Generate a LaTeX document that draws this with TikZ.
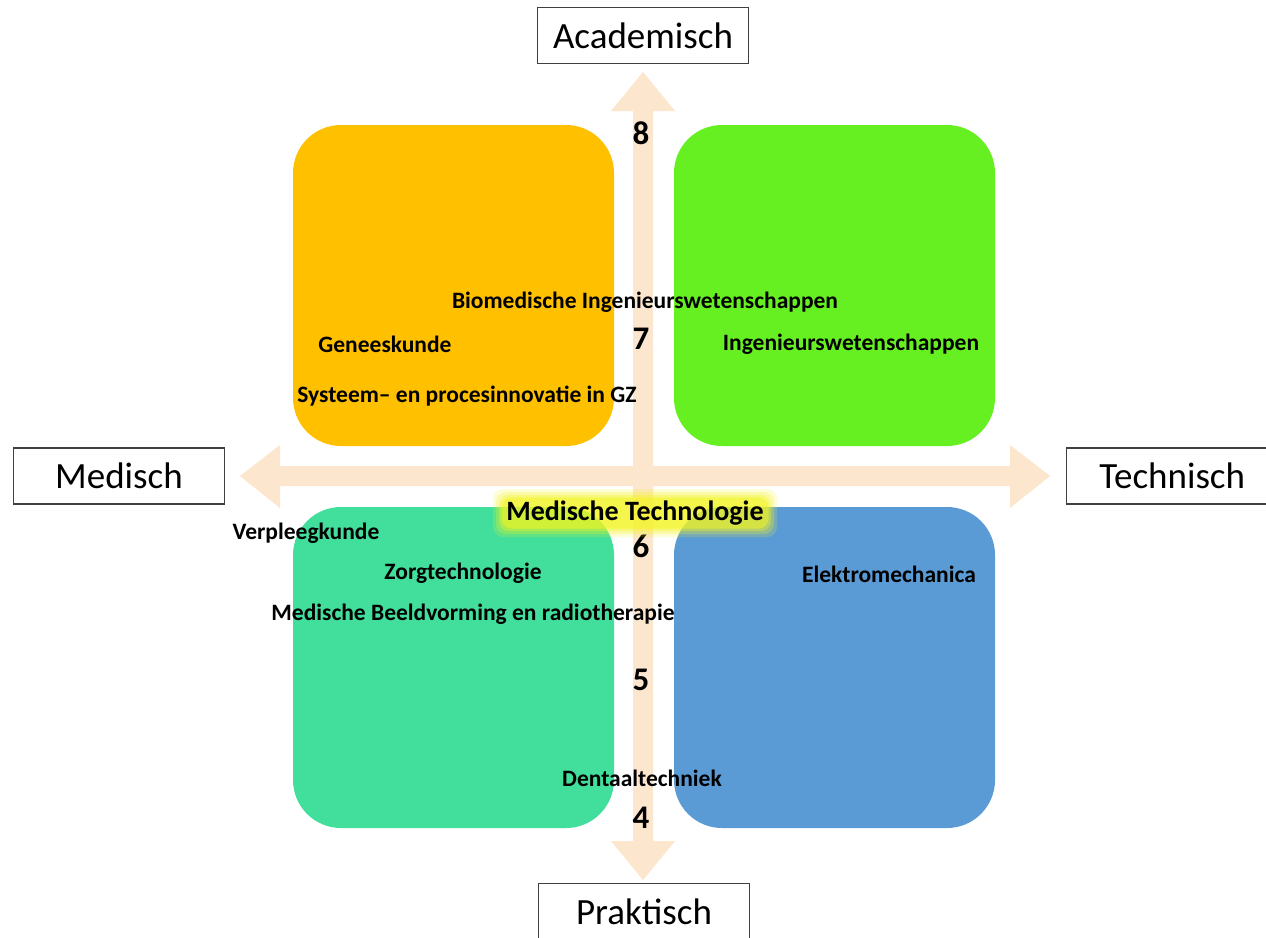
\documentclass[tikz,border=0pt]{standalone}
\usepackage{fontspec}
\setmainfont{Carlito}
\definecolor{qorange}{HTML}{FFC000}
\definecolor{qgreen}{HTML}{66F022}
\definecolor{qteal}{HTML}{41DF9B}
\definecolor{qblue}{HTML}{5B9BD5}
\definecolor{qarrow}{HTML}{FDE6CE}
\definecolor{qglow}{HTML}{F4F520}
\tikzset{
  quad/.style={rounded corners=48pt, draw=none},
  axisbox/.style={draw=black!75, line width=1.4pt, fill=white, minimum width=211pt, minimum height=56pt, inner sep=0pt, font=\fontsize{37}{40}\selectfont},
  lbl/.style={inner sep=0pt, font=\bfseries\fontsize{23.5}{25}\selectfont, text=black},
  num/.style={inner sep=0pt, font=\bfseries\fontsize{33}{35}\selectfont, text=black},
  axisfill/.style={fill=qarrow, draw=none}
}
\begin{document}
\begin{tikzpicture}[x=1pt,y=-1pt]
\useasboundingbox[fill=white] (0,0) rectangle (1266,937);
% quadrants
\fill[quad, qorange] (293,125) rectangle (614,446);
\fill[quad, qgreen] (674,125) rectangle (995,446);
\fill[quad, qteal] (293,507) rectangle (614,828);
\fill[quad, qblue] (674,507) rectangle (995,828);
% axes
\fill[axisfill] (643,72) -- (675,111) -- (653,111) -- (653,841) -- (675,841) -- (643,880) -- (611,841) -- (633,841) -- (633,111) -- (611,111) -- cycle;
\fill[axisfill] (240,476) -- (280,445) -- (280,466) -- (1010,466) -- (1010,445) -- (1050,476) -- (1010,508) -- (1010,486) -- (280,486) -- (280,508) -- cycle;
% axis labels
\node[axisbox] (acad) at (643,35.5) {Academisch};
\node[axisbox] (med) at (119,476) {Medisch};
\node[axisbox, anchor=west] (tech) at (1066,476) {Technisch};
\node[axisbox, anchor=north] (prak) at (644,883) {Praktisch};
% numbers
\node[num] (n8) at (641,133) {8};
\node[num] (n7) at (641,339) {7};
\node[num] (n6) at (641,546) {6};
\node[num] (n5) at (641,680) {5};
\node[num] (n4) at (641,818) {4};
% glow behind Medische Technologie
\foreach \g/\o in {10/0.18, 7/0.25, 4/0.35, 1.5/0.5}
  \fill[qglow, opacity=\o, rounded corners=10pt] (503-\g,499-\g) rectangle (767+\g,527+\g);
% programme labels
\node[lbl] (bio) at (645,302) {Biomedische Ingenieurswetenschappen};
\node[lbl] (gen) at (385,344) {Geneeskunde};
\node[lbl] (ing) at (851,344) {Ingenieurswetenschappen};
\node[lbl] (sys) at (467,396) {Systeem– en procesinnovatie in GZ};
\node[lbl, font=\bfseries\fontsize{28}{30}\selectfont] (mt) at (635,513) {Medische Technologie};
\node[lbl] (ver) at (306,533) {Verpleegkunde};
\node[lbl] (zorg) at (463,573) {Zorgtechnologie};
\node[lbl] (elek) at (889,574) {Elektromechanica};
\node[lbl] (mbr) at (473,614) {Medische Beeldvorming en radiotherapie};
\node[lbl] (dent) at (642,778) {Dentaaltechniek};
\end{tikzpicture}
\end{document}
